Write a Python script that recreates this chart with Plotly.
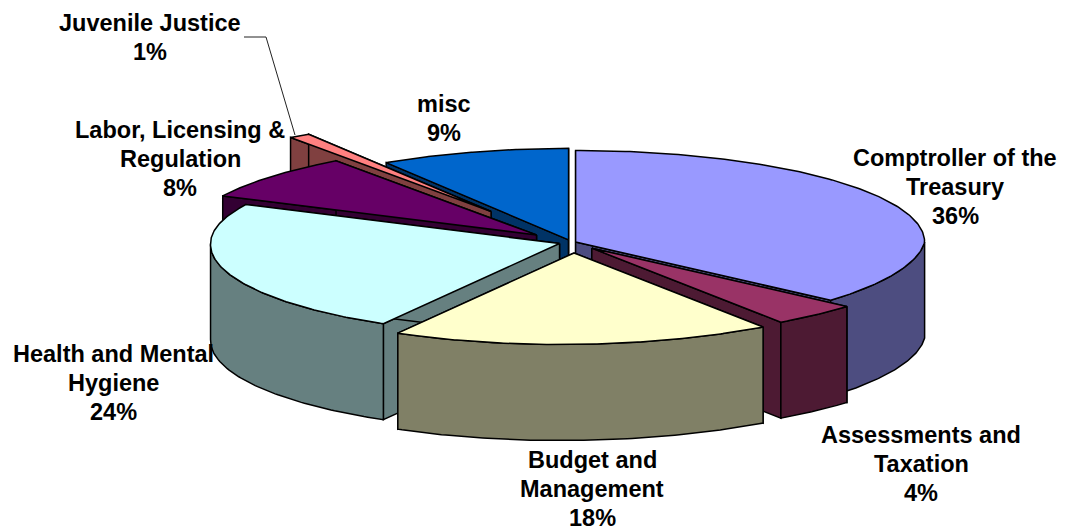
import numpy as np
import plotly.graph_objects as go

# --- data ---
categories = [["Comptroller of the", "Treasury"], ["Assessments and", "Taxation"], ["Budget and", "Management"],
              ["Health and Mental", "Hygiene"], ["Labor, Licensing &", "Regulation"], ["Juvenile Justice"], ["misc"]]
values = [36, 4, 18, 24, 8, 1, 9]

# --- style ---
explode = [0.013, 0.085, 0.115, 0.036, 0.13, 0.41, 0.03]
top_colors = ["#9999FF", "#993366", "#FFFFCC", "#CCFFFF", "#660066", "#FF8080", "#0066CC"]
side_colors = ["#4D4D80", "#4D1A33", "#808066", "#668080", "#330033", "#804040", "#003366"]
label_x = [955, 921, 592, 113, 180, 150, 444]
label_top = [158, 435, 460, 354, 130, 23, 104]
draw_order = [6, 5, 4, 0, 3, 1, 2]

CX, CY, RX, RY, DEPTH = 571.5, 242.5, 349, 91.5, 96
LINE_GAP = 29

shares = np.array(values) / sum(values) * 360
ends = np.cumsum(shares)
starts = ends - shares


def rim(t_deg, ax, ay):
    t = np.radians(t_deg)
    s, c = np.sin(t), np.cos(t)
    # slight perspective distortion of the tilted ellipse
    x = ax + RX * s - (14 + 10 * s) * np.maximum(0, -c) + 12 * np.maximum(0, -s) * np.maximum(0, c) ** 2
    y = ay - RY * c
    return x, y


def poly(fig, xs, ys, color):
    fig.add_trace(go.Scatter(x=xs, y=ys, mode="lines", fill="toself", fillcolor=color,
                             line=dict(color="black", width=1.5), hoverinfo="skip", showlegend=False))


fig = go.Figure()
for i in draw_order:
    s, e = starts[i], ends[i]
    mid = np.radians((s + e) / 2)
    ax = CX + explode[i] * RX * np.sin(mid)
    ay = CY - explode[i] * RY * np.cos(mid)
    # radial faces
    for edge in (s, e):
        px, py = rim(edge, ax, ay)
        poly(fig, [ax, px, px, ax, ax], [ay, py, py + DEPTH, ay + DEPTH, ay], side_colors[i])
    # outer wall (front half only)
    lo, hi = max(s, 90), min(e, 270)
    if hi > lo:
        ts = np.linspace(lo, hi, 80)
        px, py = rim(ts, ax, ay)
        poly(fig, np.r_[px, px[::-1], px[0]], np.r_[py, py[::-1] + DEPTH, py[0]], side_colors[i])
    # top face
    ts = np.linspace(s, e, 160)
    px, py = rim(ts, ax, ay)
    poly(fig, np.r_[ax, px, ax], np.r_[ay, py, ay], top_colors[i])

# leader line for Juvenile Justice
fig.add_trace(go.Scatter(x=[244, 266, 295], y=[37, 37, 135], mode="lines",
                         line=dict(color="#222222", width=1), hoverinfo="skip", showlegend=False))

for cat, val, lx, ly in zip(categories, values, label_x, label_top):
    for j, line in enumerate(cat + [f"{val}%"]):
        fig.add_annotation(x=lx, y=ly + j * LINE_GAP, text=f"<b>{line}</b>", showarrow=False,
                           xanchor="center", yanchor="middle",
                           font=dict(family="Liberation Sans", size=23.5, color="black"))

fig.update_layout(width=1075, height=531, margin=dict(l=0, r=0, t=0, b=0),
                  paper_bgcolor="white", plot_bgcolor="white",
                  xaxis=dict(range=[0, 1075], visible=False, fixedrange=True),
                  yaxis=dict(range=[531, 0], visible=False, fixedrange=True))
fig.write_html("out.html", config={"displayModeBar": False},
               post_script="document.body.style.margin='0';document.documentElement.style.overflow='hidden';")
